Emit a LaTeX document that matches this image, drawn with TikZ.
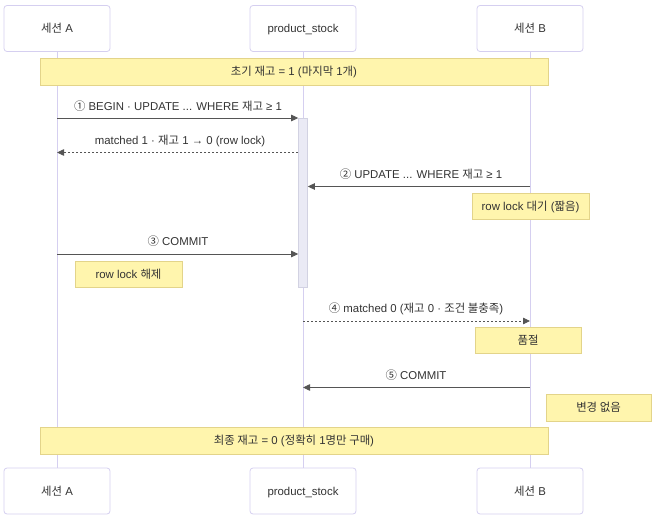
\documentclass[tikz,border=0pt]{standalone}
\usepackage{fontspec}
\setmainfont{Liberation Sans}
\newfontfamily\krfont{Noto Sans CJK KR}
\newcommand{\kor}[1]{{\krfont #1}}
\usetikzlibrary{arrows.meta}
\definecolor{actorline}{HTML}{D5CFF0}
\definecolor{notefill}{HTML}{FFF5AD}
\definecolor{noteline}{HTML}{E3D48A}
\definecolor{actfill}{HTML}{EAEAF5}
\definecolor{actline}{HTML}{D2D2E2}
\definecolor{msgline}{HTML}{555555}
\definecolor{txt}{HTML}{333333}
\tikzstyle{actor} = [rectangle, draw=actorline, fill=white, rounded corners=3pt, line width=.8pt, minimum width=106pt, minimum height=46pt, text height=11pt, text depth=2.8pt, align=center]
\tikzstyle{note} = [rectangle, draw=noteline, fill=notefill, line width=.6pt, minimum height=27pt, text height=11pt, text depth=2.8pt, align=center]
\tikzstyle{lifeline} = [draw=actorline, line width=1pt]
\tikzstyle{msg} = [draw=msgline, line width=.8pt, -{Triangle[length=7pt,width=6.5pt]}]
\tikzstyle{reply} = [msg, dash pattern=on 2pt off 2pt]

\begin{document}
\begin{tikzpicture}[x=1pt, y=-1pt, font=\fontsize{11.4}{13}\selectfont, text=txt]
\useasboundingbox (0,0) rectangle (658,521);
% actors (top and bottom) with their lifelines
\foreach \name/\x/\txt in {sa/57/\kor{세션} A,ps/303/product\_stock,sb/530/\kor{세션} B}{
     \node[actor] (\name-top) at (\x,28.5) {\txt};
     \node[actor] (\name-bot) at (\x,491) {\txt};
     \draw[lifeline] (\name-top) -- (\name-bot);
}
% activation on product_stock
\node[rectangle, draw=actline, fill=actfill, line width=.6pt, minimum width=9pt, minimum height=169pt, inner sep=0pt] (act) at (303,202.5) {};

% notes
\node[note, minimum width=508pt] (n0) at (294,71.5) {\kor{초기 재고} = 1 (\kor{마지막} 1\kor{개})};
\node[note, minimum width=117pt, minimum height=26pt] (n1) at (530.5,206) {row lock \kor{대기} (\kor{짧음})};
\node[note, minimum width=107pt, minimum height=26pt] (n2) at (128.5,274) {row lock \kor{해제}};
\node[note, minimum width=106pt, minimum height=26pt] (n3) at (528,340) {\kor{품절}};
\node[note, minimum width=105pt] (n4) at (598.5,407.5) {\kor{변경 없음}};
\node[note, minimum width=508pt] (n5) at (294,440.5) {\kor{최종 재고} = 0 (\kor{정확히} 1\kor{명만 구매})};

% messages
\coordinate (m1) at (57,118);
\draw[msg] (m1) -- (m1 -| act.west);
\node (t1) at (178,106.5) {\kor{①} BEGIN · UPDATE ... WHERE \kor{재고} ≥ 1};

\coordinate (m2) at (57,152.5);
\draw[reply] (m2 -| act.west) -- (m2);
\node (t2) at (180,140.5) {matched 1 · \kor{재고} 1 → 0 (row lock)};

\coordinate (m3) at (530,186.5);
\draw[msg] (m3) -- (m3 -| act.east);
\node (t3) at (421,174.5) {\kor{②} UPDATE ... WHERE \kor{재고} ≥ 1};

\coordinate (m4) at (57,254);
\draw[msg] (m4) -- (m4 -| act.west);
\node (t4) at (178,241.5) {\kor{③} COMMIT};

\coordinate (m5) at (303,321);
\draw[reply] (m5) -- (m5 -| sb-top);
\node (t5) at (416,308.5) {\kor{④} matched 0 (\kor{재고} 0 · \kor{조건 불충족})};

\coordinate (m6) at (530,387.5);
\draw[msg] (m6) -- (m6 -| ps-top);
\node (t6) at (416,375.5) {\kor{⑤} COMMIT};
\end{tikzpicture}
\end{document}
